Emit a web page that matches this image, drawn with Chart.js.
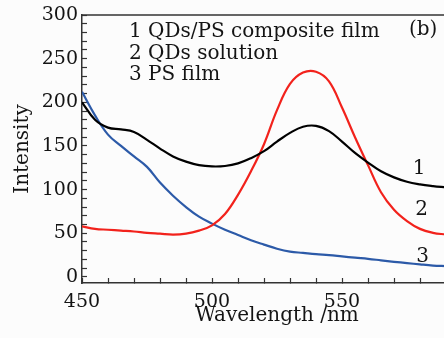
<!DOCTYPE html>
<html>
<head>
<meta charset="utf-8">
<script src="https://cdn.jsdelivr.net/npm/chart.js@4"></script>
<style>
    html, body { margin: 0; padding: 0; background: #fcfcfc; overflow: hidden; }
    #wrap { width: 444px; height: 338px; overflow: hidden; }
</style>
</head>
<body>
<div id="wrap"><canvas id="plChart" width="490" height="338"></canvas></div>
<script>
// Espectros de fluorescencia (b)
var wavelengths = [450, 455, 460, 465, 470, 475, 480, 485, 490, 495, 500, 505, 510, 515, 520,
    525, 530, 535, 540, 545, 550, 555, 560, 565, 570, 575, 580, 585, 590];
var compositeFilm = [200, 180, 171, 169, 166, 157, 147, 138, 132, 128, 126.5, 127, 130, 136, 144,
    155, 165, 172, 173, 167, 155, 142, 131, 121, 114, 109, 106, 104, 102.5];
var qdsSolution = [58, 55, 54, 53, 52, 50.5, 49.5, 48.5, 49.5, 53, 59, 72, 94, 121, 152,
    191, 221, 234, 235, 224, 194, 160, 128, 97, 77, 64, 55, 50.5, 48.5];
var psFilm = [212, 185, 163, 150, 138, 126, 108, 93, 80, 69, 61, 54, 48, 42, 37,
    32.3, 29, 27.5, 26, 25, 23.5, 22, 20.7, 19, 17.3, 15.8, 14.3, 13, 12.3];

var legendLines = ['1 QDs/PS composite film', '2 QDs solution', '3 PS film'];
var panelLabel = '(b)';
var curveTags = [
    { text: '1', x: 579.7, y: 124 },
    { text: '2', x: 580.6, y: 77 },
    { text: '3', x: 581, y: 23.5 }
];

var serif = 'DejaVu Serif';
var ink = '#141414';

function toPoints(ys) {
    var pts = [];
    for (var i = 0; i < wavelengths.length; i++) {
        pts.push({ x: wavelengths[i], y: ys[i] });
    }
    return pts;
}

// sem folga extra para os rótulos: a área do gráfico fica presa ao layout.padding
function noLabelPadding(scale) {
    scale.paddingTop = 0;
    scale.paddingBottom = 0;
    scale.paddingLeft = 0;
    scale.paddingRight = 0;
}

// textos, moldura superior e rótulos das curvas
var extrasPlugin = {
    id: 'extras',
    afterDatasetsDraw: function(chart) {
        var ctx = chart.ctx;
        var area = chart.chartArea;
        var xs = chart.scales.x;
        var ys = chart.scales.y;
        ctx.save();
        ctx.strokeStyle = '#333';
        ctx.lineWidth = 1.5;
        ctx.beginPath();
        ctx.moveTo(area.left, area.top);
        ctx.lineTo(chart.width, area.top);
        ctx.stroke();

        ctx.fillStyle = ink;
        ctx.font = '20px "' + serif + '"';
        ctx.textBaseline = 'alphabetic';
        ctx.textAlign = 'left';
        for (var i = 0; i < legendLines.length; i++) {
            ctx.fillText(legendLines[i], area.left + 47, area.top + 22 + i * 21.6);
        }
        ctx.fillText(panelLabel, area.left + 327, area.top + 20);

        ctx.textAlign = 'center';
        ctx.textBaseline = 'middle';
        for (var j = 0; j < curveTags.length; j++) {
            var t = curveTags[j];
            ctx.fillText(t.text, xs.getPixelForValue(t.x), ys.getPixelForValue(t.y));
        }
        ctx.restore();
    }
};

var ctx = document.getElementById('plChart');
new Chart(ctx, {
    type: 'line',
    data: {
        datasets: [
            { label: legendLines[0], data: toPoints(compositeFilm), borderColor: '#000000' },
            { label: legendLines[1], data: toPoints(qdsSolution), borderColor: '#f2221c' },
            { label: legendLines[2], data: toPoints(psFilm), borderColor: '#2c5aa8' }
        ]
    },
    options: {
        responsive: false,
        animation: false,
        devicePixelRatio: 1,
        layout: { padding: { top: 15, right: 18, left: 0, bottom: 0 } },
        elements: {
            line: { borderWidth: 2.2, tension: 0.4, fill: false },
            point: { radius: 0 }
        },
        plugins: {
            legend: { display: false },
            tooltip: { enabled: false }
        },
        scales: {
            x: {
                type: 'linear',
                min: 450,
                max: 600,
                afterFit: function(scale) { scale.height = 55; noLabelPadding(scale); },
                ticks: {
                    stepSize: 10,
                    autoSkip: false,
                    maxRotation: 0,
                    padding: 13,
                    color: ink,
                    font: { family: serif, size: 19 },
                    callback: function(value) { return value % 50 === 0 ? value : ''; }
                },
                grid: { drawOnChartArea: false, tickLength: -5, tickColor: '#333', tickWidth: 1.2 },
                border: { display: true, color: '#333', width: 1.5 },
                title: {
                    display: true,
                    text: 'Wavelength /nm',
                    color: ink,
                    font: { family: serif, size: 20 },
                    padding: { top: 0, bottom: 10 }
                }
            },
            y: {
                min: -7,
                max: 300,
                afterFit: function(scale) { scale.width = 82; noLabelPadding(scale); },
                ticks: {
                    stepSize: 10,
                    includeBounds: false,
                    autoSkip: false,
                    padding: 9,
                    color: ink,
                    font: { family: serif, size: 19 },
                    callback: function(value) { return value % 50 === 0 ? value : ''; }
                },
                grid: { drawOnChartArea: false, tickLength: -5, tickColor: '#333', tickWidth: 1.2 },
                border: { display: true, color: '#333', width: 1.5 },
                title: {
                    display: true,
                    text: 'Intensity',
                    color: ink,
                    font: { family: serif, size: 20 },
                    padding: { top: 11, bottom: 0 }
                }
            }
        }
    },
    plugins: [extrasPlugin]
});
</script>
</body>
</html>
